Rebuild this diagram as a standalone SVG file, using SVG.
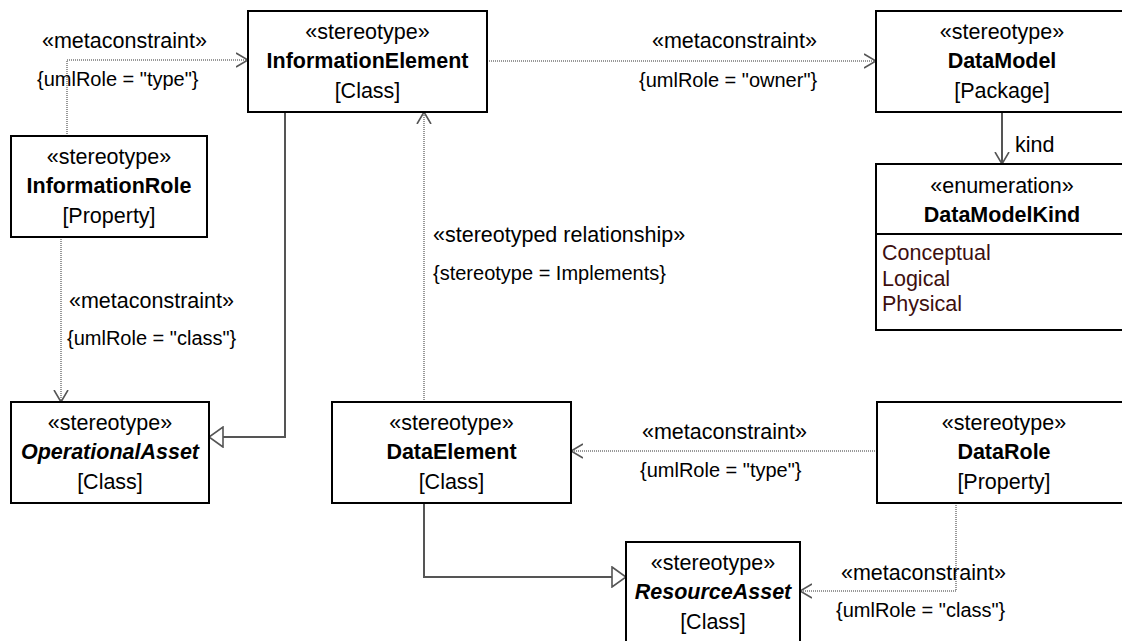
<svg xmlns="http://www.w3.org/2000/svg" width="1122" height="641" viewBox="0 0 1122 641">
<style>
  text { font-family: "Liberation Sans", Arial, sans-serif; fill: #000; }
  .box { fill: #fff; stroke: #000; stroke-width: 2; }
  .t { font-size: 21.5px; text-anchor: middle; }
  .b { font-weight: bold; }
  .bi { font-weight: bold; font-style: italic; }
  .lbl { font-size: 21.5px; }
  .cons { font-size: 20px; }
  .lit { font-size: 21.5px; fill: #3d0f0f; }
  .solid { fill: none; stroke: #555; stroke-width: 2; }
  .dot { fill: none; stroke: #777; stroke-width: 1.5; stroke-dasharray: 1 1; }
</style>
<defs>
  <marker id="open" markerUnits="userSpaceOnUse" viewBox="0 0 13 16" refX="12" refY="8" markerWidth="13" markerHeight="16" orient="auto">
    <path d="M0,1 L12,8 L0,15" fill="none" stroke="#555" stroke-width="1.6"/>
  </marker>
  <marker id="gen" markerUnits="userSpaceOnUse" viewBox="-1 -1 16 22" refX="14" refY="10" markerWidth="16" markerHeight="22" orient="auto">
    <path d="M0,0 L14,10 L0,20 Z" fill="#fff" stroke="#555" stroke-width="1.6"/>
  </marker>
</defs>

<g id="connectors">
  <!-- InformationRole -> InformationElement -->
  <polyline class="dot" points="67,136 67,60 248,60" marker-end="url(#open)"/>
  <!-- InformationElement -> DataModel -->
  <polyline class="dot" points="487,61 876,61" marker-end="url(#open)"/>
  <!-- DataModel -> DataModelKind -->
  <polyline class="solid" points="1002,112 1002,164" marker-end="url(#open)"/>
  <!-- InformationRole -> OperationalAsset -->
  <polyline class="dot" points="61,237 61,402" marker-end="url(#open)"/>
  <!-- InformationElement generalization -> OperationalAsset -->
  <polyline class="solid" points="285,112 285,437 209,437" marker-end="url(#gen)"/>
  <!-- DataElement -> InformationElement -->
  <polyline class="dot" points="424,402 424,112" marker-end="url(#open)"/>
  <!-- DataRole -> DataElement -->
  <polyline class="dot" points="877,451 571,451" marker-end="url(#open)"/>
  <!-- DataElement generalization -> ResourceAsset -->
  <polyline class="solid" points="424,503 424,577 626,577" marker-end="url(#gen)"/>
  <!-- DataRole -> ResourceAsset -->
  <polyline class="dot" points="956,503 956,591 800,591" marker-end="url(#open)"/>

  <text class="lbl" x="42" y="48">«metaconstraint»</text>
  <text class="cons" x="37" y="86">{umlRole = "type"}</text>
  <text class="lbl" x="652" y="48">«metaconstraint»</text>
  <text class="cons" x="639" y="87">{umlRole = "owner"}</text>
  <text class="lbl" x="1015" y="152">kind</text>
  <text class="lbl" x="69" y="308">«metaconstraint»</text>
  <text class="cons" x="67" y="345">{umlRole = "class"}</text>
  <text class="lbl" x="433" y="242">«stereotyped relationship»</text>
  <text class="cons" x="433" y="280">{stereotype = Implements}</text>
  <text class="lbl" x="642" y="439">«metaconstraint»</text>
  <text class="cons" x="640" y="477">{umlRole = "type"}</text>
  <text class="lbl" x="841" y="580">«metaconstraint»</text>
  <text class="cons" x="836" y="617">{umlRole = "class"}</text>
</g>

<g id="InformationElement">
  <rect class="box" x="248" y="11" width="239" height="101"/>
  <text class="t" x="367.5" y="39">«stereotype»</text>
  <text class="t b" x="367.5" y="68">InformationElement</text>
  <text class="t" x="367.5" y="98">[Class]</text>
</g>
<g id="InformationRole">
  <rect class="box" x="11" y="136" width="196" height="101"/>
  <text class="t" x="109" y="164">«stereotype»</text>
  <text class="t b" x="109" y="193">InformationRole</text>
  <text class="t" x="109" y="223">[Property]</text>
</g>
<g id="OperationalAsset">
  <rect class="box" x="11" y="402" width="198" height="101"/>
  <text class="t" x="110" y="430">«stereotype»</text>
  <text class="t bi" x="110" y="459">OperationalAsset</text>
  <text class="t" x="110" y="489">[Class]</text>
</g>
<g id="DataElement">
  <rect class="box" x="332" y="402" width="239" height="101"/>
  <text class="t" x="451.5" y="430">«stereotype»</text>
  <text class="t b" x="451.5" y="459">DataElement</text>
  <text class="t" x="451.5" y="489">[Class]</text>
</g>
<g id="ResourceAsset">
  <rect class="box" x="626" y="542" width="174" height="101"/>
  <text class="t" x="713" y="570">«stereotype»</text>
  <text class="t bi" x="713" y="599">ResourceAsset</text>
  <text class="t" x="713" y="629">[Class]</text>
</g>
<g id="DataModel">
  <rect class="box" x="876" y="11" width="252" height="101"/>
  <text class="t" x="1002" y="39">«stereotype»</text>
  <text class="t b" x="1002" y="68">DataModel</text>
  <text class="t" x="1002" y="98">[Package]</text>
</g>
<g id="DataModelKind">
  <rect class="box" x="876" y="164" width="252" height="166"/>
  <line x1="876" y1="234" x2="1128" y2="234" stroke="#000" stroke-width="2"/>
  <text class="t" x="1002" y="193">«enumeration»</text>
  <text class="t b" x="1002" y="222">DataModelKind</text>
  <text class="lit" x="882" y="260">Conceptual</text>
  <text class="lit" x="882" y="286">Logical</text>
  <text class="lit" x="882" y="311">Physical</text>
</g>
<g id="DataRole">
  <rect class="box" x="877" y="402" width="254" height="101"/>
  <text class="t" x="1004" y="430">«stereotype»</text>
  <text class="t b" x="1004" y="459">DataRole</text>
  <text class="t" x="1004" y="489">[Property]</text>
</g>
</svg>
